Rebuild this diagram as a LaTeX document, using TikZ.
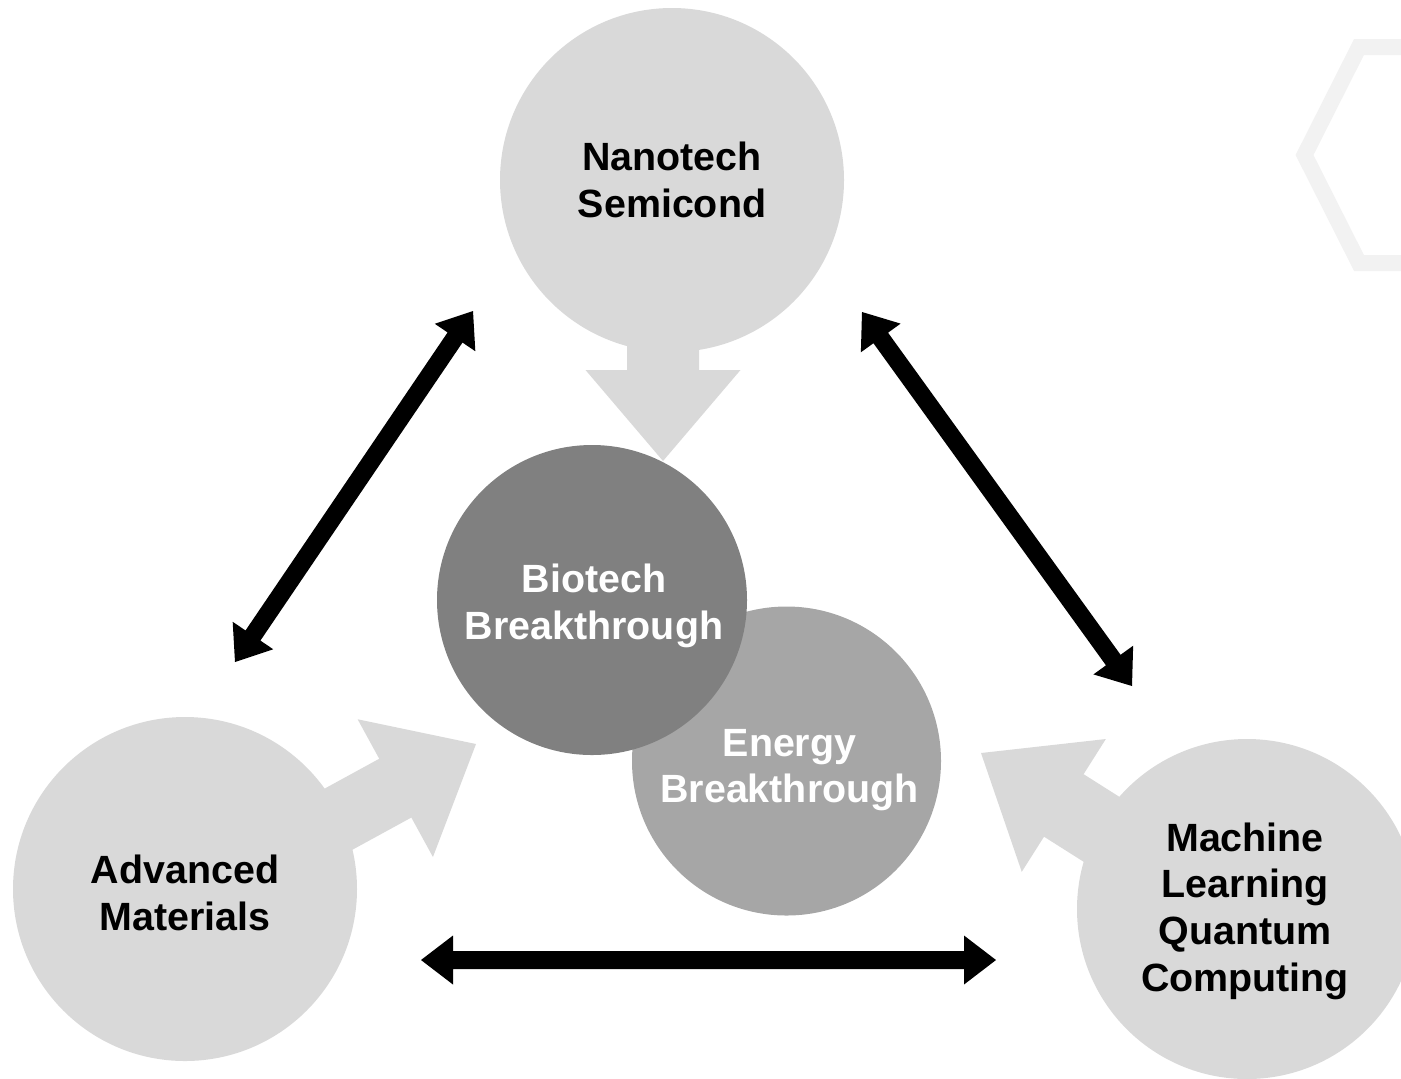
\documentclass[tikz,border=0pt]{standalone}
\usepackage{fontspec}
\setmainfont{Liberation Sans}
\usetikzlibrary{calc}

\definecolor{hubgray}{HTML}{D9D9D9}
\definecolor{biogray}{HTML}{808080}
\definecolor{energray}{HTML}{A6A6A6}
\definecolor{hexgray}{HTML}{F2F2F2}

% wide block arrow: #1 start, #2 tip, #3 shaft half width, #4 head half width, #5 head length
\newcommand{\blockarrow}[5]{%
  \fill[flow] ($(#1)!#3!90:(#2)$)
    -- ($(#2)!#5!(#1)!#3!-90:(#1)$)
    -- ($(#2)!#5!(#1)!#4!-90:(#1)$)
    -- (#2)
    -- ($(#2)!#5!(#1)!#4!90:(#1)$)
    -- ($(#2)!#5!(#1)!#3!90:(#1)$)
    -- ($(#1)!#3!-90:(#2)$)
    -- cycle;}

% black two-headed link between two named points
\newcommand{\biarrow}[2]{%
  \fill[link] (#1)
    -- ($(#1)!16pt!(#2)!12.25pt!90:(#2)$)
    -- ($(#1)!16pt!(#2)!4.5pt!90:(#2)$)
    -- ($(#2)!16pt!(#1)!4.5pt!-90:(#1)$)
    -- ($(#2)!16pt!(#1)!12.25pt!-90:(#1)$)
    -- (#2)
    -- ($(#2)!16pt!(#1)!12.25pt!90:(#1)$)
    -- ($(#2)!16pt!(#1)!4.5pt!90:(#1)$)
    -- ($(#1)!16pt!(#2)!4.5pt!-90:(#2)$)
    -- ($(#1)!16pt!(#2)!12.25pt!-90:(#2)$)
    -- cycle;}

\begin{document}
\begin{tikzpicture}[x=0.5pt,y=-0.5pt,
  labeltext/.style={font=\fontsize{19.7}{23.3}\selectfont\bfseries, align=center, inner sep=0pt},
  hub/.style={circle, fill=hubgray, inner sep=0pt},
  core/.style={circle, inner sep=0pt},
  flow/.style={fill=hubgray},
  link/.style={fill=black},
  frame/.style={draw=hexgray, line width=8pt, line join=miter}]
\useasboundingbox (0,0) rectangle (1401,1078);
\clip (0,0) rectangle (1401,1078);

% faint hexagon outline in the corner
\draw[frame] (1359,47) -- (1304.5,155) -- (1359,263) -- (1500,263)
  -- (1554.5,155) -- (1500,47) -- cycle;

% wide grey arrows pointing at the centre
\coordinate (nanoS) at (663,200);
\coordinate (nanoT) at (663,461);
\coordinate (advS) at (212.6,888);
\coordinate (advT) at (476,744);
\coordinate (mlS) at (1234.5,913.5);
\coordinate (mlT) at (981,753);
\blockarrow{nanoS}{nanoT}{18pt}{38.75pt}{45.5pt}
\blockarrow{advS}{advT}{16.75pt}{39.25pt}{46pt}
\blockarrow{mlS}{mlT}{18.5pt}{39.3pt}{49pt}

% outer fields
\node[hub, minimum size=172pt,
  label={[labeltext, text=black]center:{Nanotech\\Semicond}}] (nano) at (672,180) {};
\node[hub, minimum size=172pt,
  label={[labeltext, text=black, yshift=-2pt]center:{Advanced\\Materials}}] (adv) at (185,889) {};
\node[hub, minimum size=170pt,
  label={[labeltext, text=black, yshift=-1pt, xshift=-1pt]center:{Machine\\Learning\\Quantum\\Computing}}] (ml) at (1247,909) {};

% links between the outer fields
\coordinate (tlA) at (473,311);
\coordinate (tlB) at (235,662);
\coordinate (trA) at (862,312);
\coordinate (trB) at (1132,686);
\coordinate (btA) at (421,960);
\coordinate (btB) at (996,960);
\biarrow{tlA}{tlB}
\biarrow{trA}{trB}
\biarrow{btA}{btB}

% central breakthroughs
\node[core, fill=energray, minimum size=154.5pt,
  label={[labeltext, text=white, yshift=-4.5pt, xshift=1.5pt]center:{Energy\\Breakthrough}}] (energy) at (786.5,761) {};
\node[core, fill=biogray, minimum size=155pt,
  label={[labeltext, text=white, yshift=-3pt, xshift=1pt]center:{Biotech\\Breakthrough}}] (bio) at (592,600) {};
\end{tikzpicture}
\end{document}
